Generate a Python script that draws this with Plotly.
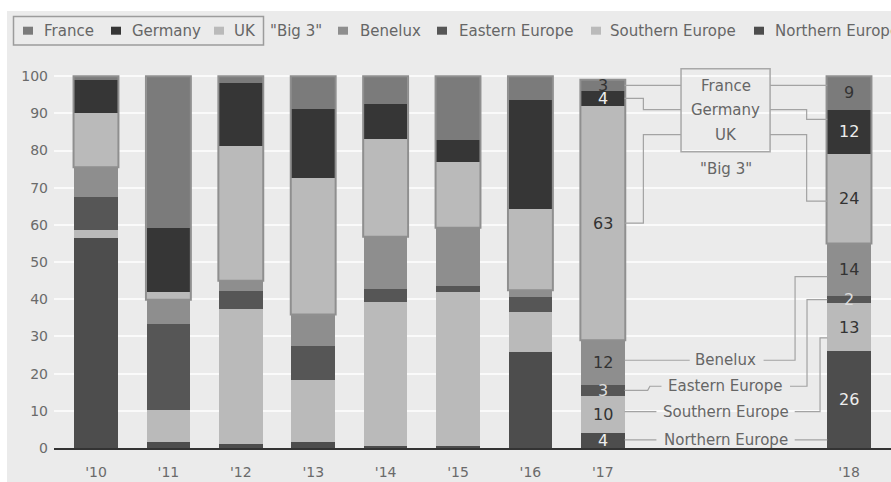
import plotly.graph_objects as go

# ---- data: share of deals by region (%), stacked bottom -> top ----
years = ["'10", "'11", "'12", "'13", "'14", "'15", "'16", "'17", "'18"]
x_pos = [0, 1, 2, 3, 4, 5, 6, 7, 10.4]

northern = [56.5, 1.5, 1.0, 1.5, 0.5, 0.6, 25.8, 4, 26]
southern = [2.0, 8.6, 36.3, 16.9, 38.8, 41.4, 10.8, 10, 13]
eastern = [9.0, 23.3, 5.0, 9.0, 3.5, 1.5, 4.0, 3, 2]
benelux = [8.0, 6.5, 2.7, 8.5, 14.0, 15.7, 1.8, 12, 14]
uk = [14.5, 2.1, 36.1, 36.8, 26.2, 17.8, 22.0, 63, 24]
germany = [9.0, 17.2, 17.1, 18.5, 9.4, 5.7, 29.2, 4, 12]
france = [1.0, 40.8, 1.8, 8.8, 7.6, 17.3, 6.4, 3, 9]

series_names = ["Northern Europe", "Southern Europe", "Eastern Europe", "Benelux",
                "UK", "Germany", "France"]
series_values = [northern, southern, eastern, benelux, uk, germany, france]
series_colors = ["#4d4d4d", "#bababa", "#565656", "#8e8e8e", "#bababa", "#363636", "#7b7b7b"]
label_colors = ["#ededed", "#333333", "#dddddd", "#333333", "#333333", "#ededed", "#333333"]
labelled_bars = [7, 8]

FONT = "DejaVu Sans"
BG = "#ebebeb"
BAR_W = 0.6

fig = go.Figure()
for name, vals, col in zip(series_names, series_values, series_colors):
    fig.add_trace(go.Bar(x=x_pos, y=vals, name=name, width=BAR_W,
                         marker=dict(color=col, line=dict(width=0)),
                         showlegend=False, hoverinfo="name+y"))

shapes = []
annotations = []

# gray panel behind everything
shapes.append(dict(type="rect", xref="paper", yref="paper", layer="below",
                   x0=(7 - 54) / 837, x1=1.0, y0=-34 / 383, y1=(448 - 11) / 383,
                   fillcolor=BG, line=dict(width=0)))

# cumulative tops per bar
n_bars = len(x_pos)
cum = [[0.0] * n_bars]
for vals in series_values:
    cum.append([c + v for c, v in zip(cum[-1], vals)])

# outline around the "Big 3" (UK + Germany + France) part of every bar
for i, xv in enumerate(x_pos):
    shapes.append(dict(type="rect", xref="x", yref="y", layer="above",
                       x0=xv - 0.31, x1=xv + 0.31, y0=cum[4][i], y1=cum[7][i],
                       line=dict(color="#8f8f8f", width=2), fillcolor="rgba(0,0,0,0)"))

# value labels on the last two bars
for i in labelled_bars:
    for s, vals in enumerate(series_values):
        annotations.append(dict(x=x_pos[i], y=(cum[s][i] + cum[s + 1][i]) / 2,
                                xref="x", yref="y", text=f"{vals[i]:g}", showarrow=False,
                                font=dict(family=FONT, size=16, color=label_colors[s])))

# ---- callout labels between '17 and '18 ----
LINE = dict(color="#a3a3a3", width=1.2)
x17r = x_pos[7] + BAR_W / 2
x18l = x_pos[8] - BAR_W / 2
mid17 = [(cum[s][7] + cum[s + 1][7]) / 2 for s in range(7)]


def path(points):
    d = "M " + " L ".join(f"{px},{py}" for px, py in points)
    shapes.append(dict(type="path", xref="x", yref="y", path=d, line=LINE, layer="above"))


label_x = 8.70
box_l, box_r = 8.08, 9.31
# "Big 3" box
shapes.append(dict(type="rect", xref="x", yref="y", x0=box_l, x1=box_r, y0=79.7, y1=102.0,
                   line=dict(color="#a8a8a8", width=1.5), fillcolor="rgba(0,0,0,0)"))
for txt, yv in [("France", 97.4), ("Germany", 90.9), ("UK", 84.1), ('"Big 3"', 75.0)]:
    annotations.append(dict(x=label_x, y=yv, xref="x", yref="y", text=txt, showarrow=False,
                            font=dict(family=FONT, size=15, color="#666666")))

# France
path([(x17r, 97.5), (box_l, 97.5)])
path([(box_r, 97.5), (x18l, 97.5)])
# Germany
path([(x17r, mid17[5]), (7.56, mid17[5]), (7.56, 91.0), (box_l, 91.0)])
path([(box_r, 91.0), (9.815, 91.0), (9.815, 88.4), (x18l, 88.4)])
# UK
path([(x17r, mid17[4]), (7.56, mid17[4]), (7.56, 84.3), (box_l, 84.3)])
path([(box_r, 84.3), (9.815, 84.3), (9.815, 66.4), (x18l, 66.4)])

# lower region labels
for txt, yv in [("Benelux", 23.6), ("Eastern Europe", 16.6),
                ("Southern Europe", 9.8), ("Northern Europe", 2.2)]:
    annotations.append(dict(x=label_x, y=yv, xref="x", yref="y", text=txt, showarrow=False,
                            font=dict(family=FONT, size=15, color="#666666")))

path([(x17r, 23.6), (8.20, 23.6)])
path([(9.22, 23.6), (9.655, 23.6), (9.655, 46.1), (x18l, 46.1)])
path([(x17r, mid17[2]), (7.62, mid17[2]), (7.65, 16.6), (7.81, 16.6)])
path([(9.585, 16.6), (9.82, 16.6), (9.82, 39.9), (x18l, 39.9)])
path([(x17r, 9.8), (7.74, 9.8)])
path([(9.65, 9.8), (10.0, 9.8), (10.0, 29.6), (x18l, 29.6)])
path([(x17r, 2.2), (7.74, 2.2)])
path([(9.65, 2.2), (x18l, 2.2)])

# ---- custom legend across the top ----
def px_x(p):
    return (p - 54) / 837


def px_y(p):
    return (448 - p) / 383


LEG_Y = 30.7
shapes.append(dict(type="rect", xref="paper", yref="paper",
                   x0=px_x(13.5), x1=px_x(263.5), y0=px_y(45), y1=px_y(16.5),
                   line=dict(color="#9c9c9c", width=1.5), fillcolor="rgba(0,0,0,0)"))
legend_items = [
    ("France", "#7b7b7b", 28, 41.7),
    ("Germany", "#363636", 116, 130),
    ("UK", "#bababa", 219, 231.7),
    ('"Big 3"', None, None, 268.3),
    ("Benelux", "#8e8e8e", 343, 358),
    ("Eastern Europe", "#565656", 442, 456.7),
    ("Southern Europe", "#bababa", 596, 608),
    ("Northern Europe", "#4d4d4d", 759, 773.3),
]
for txt, col, sx, tx in legend_items:
    if col is not None:
        shapes.append(dict(type="rect", xref="paper", yref="paper",
                           x0=px_x(sx - 5), x1=px_x(sx + 5),
                           y0=px_y(LEG_Y + 4), y1=px_y(LEG_Y - 4),
                           fillcolor=col, line=dict(width=0)))
    annotations.append(dict(x=px_x(tx), y=px_y(LEG_Y), xref="paper", yref="paper",
                            text=txt, showarrow=False, xanchor="left", yanchor="middle",
                            font=dict(family=FONT, size=15, color="#666666")))

fig.update_layout(
    width=891, height=482,
    margin=dict(l=54, r=0, t=65, b=34, pad=0),
    barmode="stack",
    paper_bgcolor="white",
    plot_bgcolor="rgba(0,0,0,0)",
    font=dict(family=FONT, size=14, color="#6a6a6a"),
    shapes=shapes,
    annotations=annotations,
    showlegend=False,
    xaxis=dict(range=[-0.58, 10.98], tickvals=x_pos, ticktext=years,
               showgrid=False, zeroline=False, showline=True,
               linecolor="#333333", linewidth=2, ticks="",
               ticklabelstandoff=10, tickfont=dict(size=14, color="#6a6a6a")),
    yaxis=dict(range=[0, 103], tickvals=list(range(0, 101, 10)),
               showgrid=True, gridcolor="#fafafa", gridwidth=2,
               zeroline=False, showline=False, ticks="",
               ticklabelstandoff=5, tickfont=dict(size=14, color="#6a6a6a")),
)

fig.write_html("out.html")
